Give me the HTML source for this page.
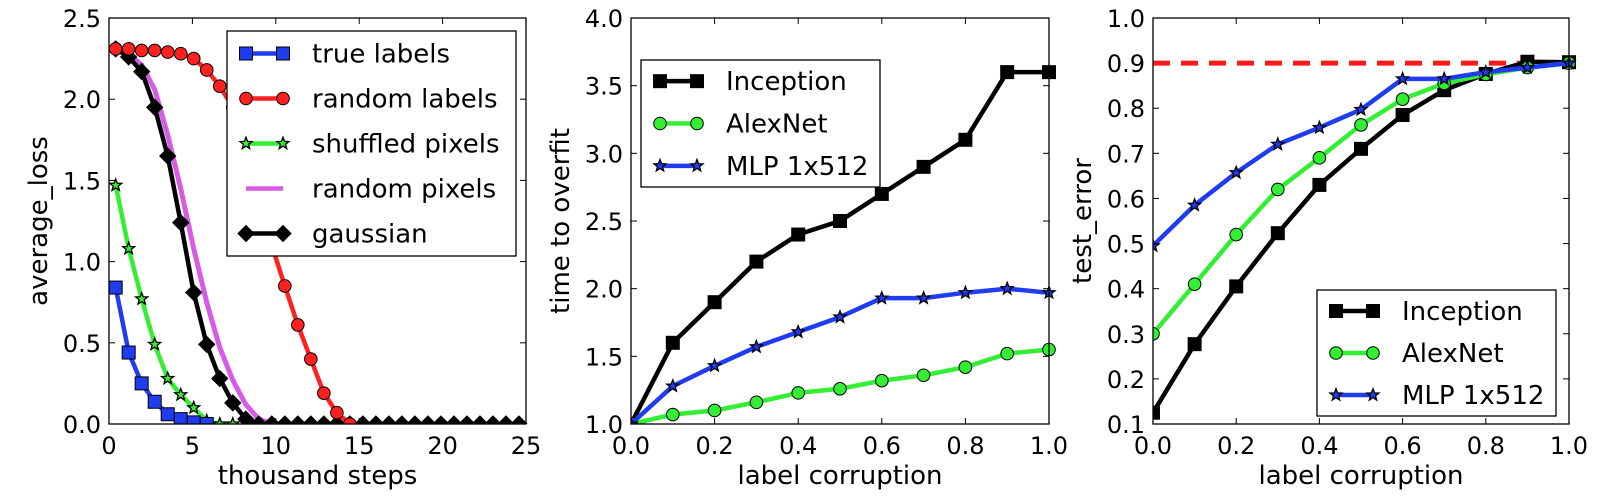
<!DOCTYPE html>
<html><head><meta charset="utf-8"><style>
html,body{margin:0;padding:0;background:#fff;}
svg{display:block;font-family:"DejaVu Sans","Liberation Sans",sans-serif;}
</style></head><body>
<svg id="fig" width="1624" height="498" viewBox="0 0 1624 498" xmlns="http://www.w3.org/2000/svg"></svg>
<script>
// ---- Panel 1 data (null = series not recorded at that step) ----
const p1Steps = [0.4,1.18,1.96,2.74,3.52,4.3,5.08,5.86,6.64,7.42,8.2,8.98,9.76,10.54,11.32,12.1,12.88,13.66,14.44,15.22,16,16.78,17.56,18.34,19.12,19.9,20.68,21.46,22.24,23.02,23.8,24.58];
const p1True = [0.84,0.44,0.25,0.137,0.06,0.03,0.01,0,null,null,null,null,null,null,null,null,null,null,null,null,null,null,null,null,null,null,null,null,null,null,null,null];
const p1RandLabels = [2.31,2.31,2.30,2.30,2.29,2.28,2.25,2.18,2.08,1.95,1.75,1.45,1.10,0.85,0.61,0.40,0.19,0.07,0,null,null,null,null,null,null,null,null,null,null,null,null,null];
const p1Shuffled = [1.47,1.08,0.77,0.49,0.28,0.18,0.10,0.02,0,0,null,null,null,null,null,null,null,null,null,null,null,null,null,null,null,null,null,null,null,null,null,null];
const p1RandPixels = [2.31,2.28,2.21,2.06,1.78,1.45,1.08,0.75,0.47,0.27,0.12,0.03,0,null,null,null,null,null,null,null,null,null,null,null,null,null,null,null,null,null,null,null];
const p1Gauss = [2.31,2.26,2.17,1.95,1.65,1.24,0.81,0.49,0.28,0.13,0.03,0,0,0,0,0,0,0,0,0,0,0,0,0,0,0,0,0,0,0,0,0];
const p1XTicks = [0,5,10,15,20,25];
const p1YTicks = ["0.0","0.5","1.0","1.5","2.0","2.5"];
// ---- Panel 2 data ----
const corr = [0,0.1,0.2,0.3,0.4,0.5,0.6,0.7,0.8,0.9,1.0];
const p2Inception = [1.0,1.6,1.9,2.2,2.4,2.5,2.7,2.9,3.1,3.6,3.6];
const p2AlexNet = [1.0,1.07,1.1,1.16,1.23,1.26,1.32,1.36,1.42,1.52,1.55];
const p2MLP = [1.0,1.28,1.43,1.57,1.68,1.79,1.93,1.93,1.97,2.0,1.97];
const p2YTicks = ["1.0","1.5","2.0","2.5","3.0","3.5","4.0"];
// ---- Panel 3 data ----
const p3Inception = [0.125,0.277,0.405,0.523,0.63,0.71,0.785,0.84,0.876,0.903,0.902];
const p3AlexNet = [0.30,0.41,0.52,0.62,0.69,0.763,0.82,0.855,0.875,0.89,0.90];
const p3MLP = [0.495,0.585,0.657,0.72,0.757,0.797,0.865,0.865,0.88,0.89,0.90];
const p3Chance = [0.9];
const p3YTicks = ["0.1","0.2","0.3","0.4","0.5","0.6","0.7","0.8","0.9","1.0"];
const corrTicks = ["0.0","0.2","0.4","0.6","0.8","1.0"];

const NS="http://www.w3.org/2000/svg";
const svg=document.getElementById('fig');
function mk(tag,attrs,parent){const e=document.createElementNS(NS,tag);for(const k in attrs)e.setAttribute(k,attrs[k]);(parent||svg).appendChild(e);return e;}

function star(cx,cy,r){let p=[];for(let i=0;i<10;i++){const a=-Math.PI/2+i*Math.PI/5;const rr=i%2?r*0.42:r;p.push((cx+rr*Math.cos(a)).toFixed(1)+','+(cy+rr*Math.sin(a)).toFixed(1));}return p.join(' ');}
function marker(g,type,x,y,fill){
  let e;
  if(type==='square'){e=mk('rect',{x:x-6.5,y:y-6.5,width:13,height:13,fill:fill,stroke:'#000','stroke-width':1},g);}
  else if(type==='circle'){e=mk('circle',{cx:x,cy:y,r:6.3,fill:fill,stroke:'#000','stroke-width':1},g);}
  else if(type==='diamond'){e=mk('polygon',{points:`${x},${y-8} ${x+8},${y} ${x},${y+8} ${x-8},${y}`,fill:fill,stroke:'#000','stroke-width':1},g);}
  else if(type==='star'){e=mk('polygon',{points:star(x,y,6.3),fill:fill,stroke:'#000','stroke-width':1.3},g);}
  return e;
}
function axes(name,L,R,T,B,xmin,xmax,ymin,ymax,xt,yt,xlab,ylab){
  const g=mk('g',{});
  
  
  const sx=v=>L+(v-xmin)/(xmax-xmin)*(R-L);
  const sy=v=>B-(v-ymin)/(ymax-ymin)*(B-T);
  const tg=mk('g',{},g);
  
  
  xt.forEach(t=>{const v=parseFloat(t);const x=sx(v);
    mk('line',{x1:x,y1:B,x2:x,y2:B-6,stroke:'#000','stroke-width':1},tg);
    mk('line',{x1:x,y1:T,x2:x,y2:T+6,stroke:'#000','stroke-width':1},tg);
    const tx=mk('text',{x:x,y:B+30,'text-anchor':'middle','font-size':24,fill:'#000'},tg);tx.textContent=t;
    
    
  });
  yt.forEach(t=>{const v=parseFloat(t);const y=sy(v);
    mk('line',{x1:L,y1:y,x2:L+6,y2:y,stroke:'#000','stroke-width':1},tg);
    mk('line',{x1:R,y1:y,x2:R-6,y2:y,stroke:'#000','stroke-width':1},tg);
    const tx=mk('text',{x:L-8,y:y+9,'text-anchor':'end','font-size':24,fill:'#000'},tg);tx.textContent=t;
    
    
  });
  const xl=mk('text',{x:(L+R)/2,y:B+60,'text-anchor':'middle','font-size':26,fill:'#000'},g);xl.textContent=xlab;
  
  
  const yl=mk('text',{x:0,y:0,'text-anchor':'middle','font-size':26,fill:'#000',transform:`translate(${L-62},${(T+B)/2}) rotate(-90)`},g);yl.textContent=ylab;
  
  
  const clip='clip-'+name;
  const cp=mk('clipPath',{id:clip},g);mk('rect',{x:L,y:T-8,width:R-L+8,height:B-T+8},cp);
  const plot=mk('g',{'clip-path':`url(#${clip})`},g);
  return {g,sx,sy,plot,L,R,T,B};
}
function series(ax,name,xs,ys,color,mtype,mfill,lw){
  const g=mk('g',{},ax.plot);
  
  
  const idx=xs.map((x,i)=>i).filter(i=>ys[i]!==null&&ys[i]!==undefined);
  const pts=idx.map(i=>ax.sx(xs[i]).toFixed(1)+','+ax.sy(ys[i]).toFixed(1)).join(' ');
  mk('polyline',{points:pts,fill:'none',stroke:color,'stroke-width':lw||4.5,'stroke-linejoin':'round'},g);
  if(mtype) idx.forEach(i=>{const m=marker(g,mtype,ax.sx(xs[i]),ax.sy(ys[i]),mfill);
    
    });
}
function frame(ax){mk('rect',{x:ax.L,y:ax.T,width:ax.R-ax.L,height:ax.B-ax.T,fill:'none',stroke:'#000','stroke-width':1.3},ax.g);}
function legend(name,x,y,w,h,entries){
  const g=mk('g',{});
  
  
  mk('rect',{x:x,y:y,width:w,height:h,fill:'#fff',stroke:'#000','stroke-width':1.3},g);
  const rowH=h/entries.length;
  entries.forEach((e,i)=>{const cy=y+rowH*(i+0.5);
    const eg=mk('g',{},g);
    
    
    mk('line',{x1:x+19,y1:cy,x2:x+56,y2:cy,stroke:e.c,'stroke-width':4.5},eg);
    if(e.m){marker(eg,e.m,x+19,cy,e.f);marker(eg,e.m,x+56,cy,e.f);}
    const t=mk('text',{x:x+85,y:cy+9,'font-size':26,fill:'#000'},eg);t.textContent=e.t;
  });
}

// Panel 1
const a1=axes('loss-panel',109,526,18,424,0,25,0,2.5,p1XTicks.map(String),p1YTicks,'thousand steps','average_loss');
series(a1,'random-pixels-line',p1Steps,p1RandPixels,'#d65ce6',null,null,5);
series(a1,'gaussian-line',p1Steps,p1Gauss,'#000','diamond','#000');
series(a1,'random-labels-line',p1Steps,p1RandLabels,'#ff2020','circle','#ff2020');
series(a1,'shuffled-pixels-line',p1Steps,p1Shuffled,'#33ee33','star','#33ee33');
series(a1,'true-labels-line',p1Steps,p1True,'#1f3cf0','square','#1f3cf0');
frame(a1);
legend('loss-legend',227,31,289,225,[
 {t:'true labels',c:'#1f3cf0',m:'square',f:'#1f3cf0'},
 {t:'random labels',c:'#ff2020',m:'circle',f:'#ff2020'},
 {t:'shuffled pixels',c:'#33ee33',m:'star',f:'#33ee33'},
 {t:'random pixels',c:'#d65ce6'},
 {t:'gaussian',c:'#000',m:'diamond',f:'#000'}]);

// Panel 2
const a2=axes('overfit-panel',631,1049,18,424,0,1,1,4,corrTicks,p2YTicks,'label corruption','time to overfit');
series(a2,'inception-line',corr,p2Inception,'#000','square','#000');
series(a2,'alexnet-line',corr,p2AlexNet,'#33ee33','circle','#33ee33');
series(a2,'mlp-line',corr,p2MLP,'#1f3cf0','star','#1f3cf0');
frame(a2);
legend('overfit-legend',641,60,239,127,[
 {t:'Inception',c:'#000',m:'square',f:'#000'},
 {t:'AlexNet',c:'#33ee33',m:'circle',f:'#33ee33'},
 {t:'MLP 1x512',c:'#1f3cf0',m:'star',f:'#1f3cf0'}]);

// Panel 3
const a3=axes('test-error-panel',1153,1569,18,424,0,1,0.1,1.0,corrTicks,p3YTicks,'label corruption','test_error');
const ch=mk('line',{x1:a3.sx(0),y1:a3.sy(p3Chance[0]),x2:a3.sx(1),y2:a3.sy(p3Chance[0]),stroke:'#ff1a1a','stroke-width':5,'stroke-dasharray':'17,11'},a3.plot);


series(a3,'inception-line',corr,p3Inception,'#000','square','#000');
series(a3,'alexnet-line',corr,p3AlexNet,'#33ee33','circle','#33ee33');
series(a3,'mlp-line',corr,p3MLP,'#1f3cf0','star','#1f3cf0');
frame(a3);
legend('test-error-legend',1317,290,239,126,[
 {t:'Inception',c:'#000',m:'square',f:'#000'},
 {t:'AlexNet',c:'#33ee33',m:'circle',f:'#33ee33'},
 {t:'MLP 1x512',c:'#1f3cf0',m:'star',f:'#1f3cf0'}]);
</script>
</body></html>
